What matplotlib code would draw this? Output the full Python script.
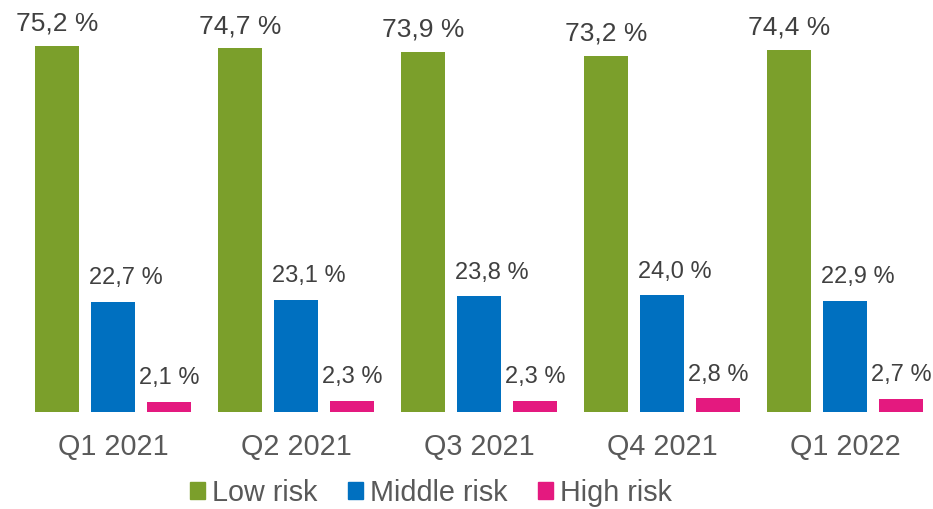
import matplotlib.pyplot as plt
import numpy as np
from matplotlib.patches import Patch

plt.rcParams['font.family'] = ['Liberation Sans', 'DejaVu Sans']

quarters = ['Q1 2021', 'Q2 2021', 'Q3 2021', 'Q4 2021', 'Q1 2022']
low_risk = [75.2, 74.7, 73.9, 73.2, 74.4]
middle_risk = [22.7, 23.1, 23.8, 24.0, 22.9]
high_risk = [2.1, 2.3, 2.3, 2.8, 2.7]
series_names = ['Low risk', 'Middle risk', 'High risk']
colors = ['#7B9F2B', '#0070C0', '#E4197F']

W, H = 933, 509
fig = plt.figure(figsize=(W / 100, H / 100), dpi=100)
# axes: baseline at y=412px, full width
ax = fig.add_axes([0, (H - 412) / H, 1, 412 / H])

x = np.arange(len(quarters))
bw = 44 / 183
step = 56 / 183
# label style per series: font size, x shift (pt), y offset (pt)
label_style = [(19, 0, 7.5), (17, 9, 9), (17, 0, 9)]
for k, (vals, c) in enumerate(zip([low_risk, middle_risk, high_risk], colors)):
    pos = x + (k - 1) * step
    ax.bar(pos, vals, width=bw, color=c)
    fs, dx, dy = label_style[k]
    for p, v in zip(pos, vals):
        ax.annotate(f"{v:.1f} %".replace('.', ','), (p, v), xytext=(dx, dy),
                    textcoords='offset points', ha='center', va='bottom',
                    fontsize=fs, color='#404040')

ax.set_xlim(-113 / 183, (W - 113) / 183)
ax.set_ylim(0, 412 / 4.867)
ax.set_xticks(x)
ax.set_xticklabels(quarters, fontsize=20.7, color='#595959')
ax.tick_params(axis='x', length=0, pad=15)
ax.set_yticks([])
for s in ax.spines.values():
    s.set_visible(False)

handles = [Patch(color=c, label=n) for c, n in zip(colors, series_names)]
fig.legend(handles=handles, loc='center', bbox_to_anchor=(431 / W, 1 - 493 / H),
           ncol=3, frameon=False, fontsize=20.7, labelcolor='#595959',
           handlelength=0.52, handleheight=0.52, handletextpad=0.24,
           columnspacing=1.08, borderpad=0, borderaxespad=0)

fig.savefig('out.png', dpi=100)
